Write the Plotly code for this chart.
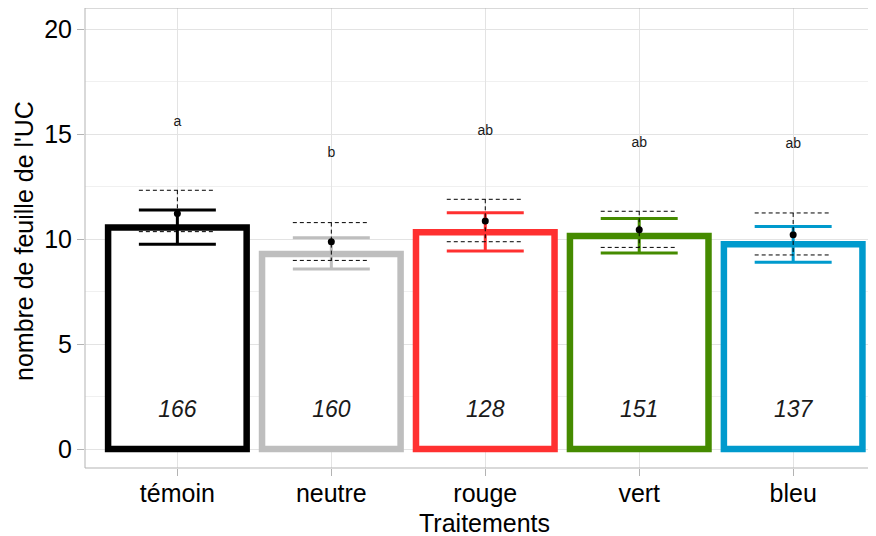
import plotly.graph_objects as go

categories = ['témoin', 'neutre', 'rouge', 'vert', 'bleu']
colors = ['#000000', '#BEBEBE', '#FF3030', '#458B00', '#009ACD']
bar_values = [10.55, 9.29, 10.32, 10.14, 9.75]
means = [11.22, 9.87, 10.86, 10.44, 10.20]
err_hi = [11.38, 10.06, 11.25, 10.98, 10.59]
err_lo = [9.75, 8.57, 9.43, 9.33, 8.89]
ci_hi = [12.32, 10.78, 11.89, 11.32, 11.24]
ci_lo = [10.35, 8.98, 9.87, 9.60, 9.24]
letters = ['a', 'b', 'ab', 'ab', 'ab']
letter_y = [15.54, 14.05, 15.11, 14.56, 14.48]
counts = ['166', '160', '128', '151', '137']
count_y = [1.8, 1.8, 1.8, 1.8, 1.8]
y_ticks = [0, 5, 10, 15, 20]

FONT = 'Liberation Sans, Arial, sans-serif'
xs = list(range(len(categories)))
hw = 0.25

fig = go.Figure()

fig.add_trace(go.Bar(
    x=xs, y=bar_values, width=0.9,
    marker=dict(color='white', line=dict(color=colors, width=6.5)),
    showlegend=False, hoverinfo='skip'))

def seg(i, hi, lo):
    return ([i - hw, i + hw, None, i, i, None, i - hw, i + hw],
            [hi, hi, None, hi, lo, None, lo, lo])

for i in xs:
    sx, sy = seg(i, err_hi[i], err_lo[i])
    fig.add_trace(go.Scatter(x=sx, y=sy, mode='lines',
                             line=dict(color=colors[i], width=3),
                             showlegend=False, hoverinfo='skip'))

dx, dy = [], []
for i in xs:
    sx, sy = seg(i, ci_hi[i], ci_lo[i])
    dx += sx + [None]
    dy += sy + [None]
fig.add_trace(go.Scatter(x=dx, y=dy, mode='lines',
                         line=dict(color='black', width=1, dash='4px,3px'),
                         showlegend=False, hoverinfo='skip'))

fig.add_trace(go.Scatter(x=xs, y=means, mode='markers',
                         marker=dict(color='black', size=7),
                         showlegend=False, hoverinfo='skip'))

fig.add_trace(go.Scatter(x=xs, y=letter_y, mode='text', text=letters,
                         textfont=dict(family=FONT, size=14, color='#1a1a1a'),
                         showlegend=False, hoverinfo='skip'))

fig.add_trace(go.Scatter(x=xs, y=count_y, mode='text', text=counts,
                         textfont=dict(family=FONT, size=23, color='#1a1a1a', style='italic'),
                         showlegend=False, hoverinfo='skip'))

border = '#B3B3B3'
fig.update_layout(
    width=876, height=536,
    margin=dict(l=77, r=0, t=0, b=76),
    plot_bgcolor='white', paper_bgcolor='white',
    font=dict(family=FONT, color='black'),
    xaxis=dict(
        range=[-0.6, 4.59], tickvals=xs, ticktext=categories,
        tickfont=dict(size=25, color='black'),
        showgrid=True, gridcolor='#E3E3E3', gridwidth=1,
        ticks='outside', ticklen=7, tickcolor=border, tickwidth=1,
        ticklabelstandoff=-4,
        showline=False, zeroline=False, automargin=False,
    ),
    yaxis=dict(
        range=[-0.905, 21.0], tickvals=y_ticks,
        tickfont=dict(size=25, color='black'),
        showgrid=True, gridcolor='#E3E3E3', gridwidth=1,
        minor=dict(dtick=2.5, tick0=0, showgrid=True, gridcolor='#F0F0F0', gridwidth=1),
        ticks='outside', ticklen=7, tickcolor=border, tickwidth=1,
        showline=False, zeroline=False, automargin=False,
    ),
    annotations=[
        dict(text='Traitements', xref='paper', yref='paper', x=0.5, y=0,
             xanchor='center', yanchor='middle', yshift=-55, showarrow=False,
             font=dict(family=FONT, size=25, color='black')),
        dict(text="nombre de feuille de l'UC", xref='paper', yref='paper', x=0, y=0.5,
             xanchor='center', yanchor='middle', xshift=-61, yshift=-3, textangle=-90,
             showarrow=False, font=dict(family=FONT, size=25, color='black')),
    ],
    shapes=[
        dict(type='line', xref='paper', yref='paper', x0=0, x1=0, y0=0, y1=1,
             line=dict(color=border, width=1)),
        dict(type='line', xref='paper', yref='paper', x0=0, x1=1.01, y0=0, y1=0,
             line=dict(color=border, width=1)),
        dict(type='line', xref='paper', yref='paper', x0=0, x1=1.01, y0=1, y1=1,
             line=dict(color=border, width=1)),
    ],
)

fig.write_html('out.html')
